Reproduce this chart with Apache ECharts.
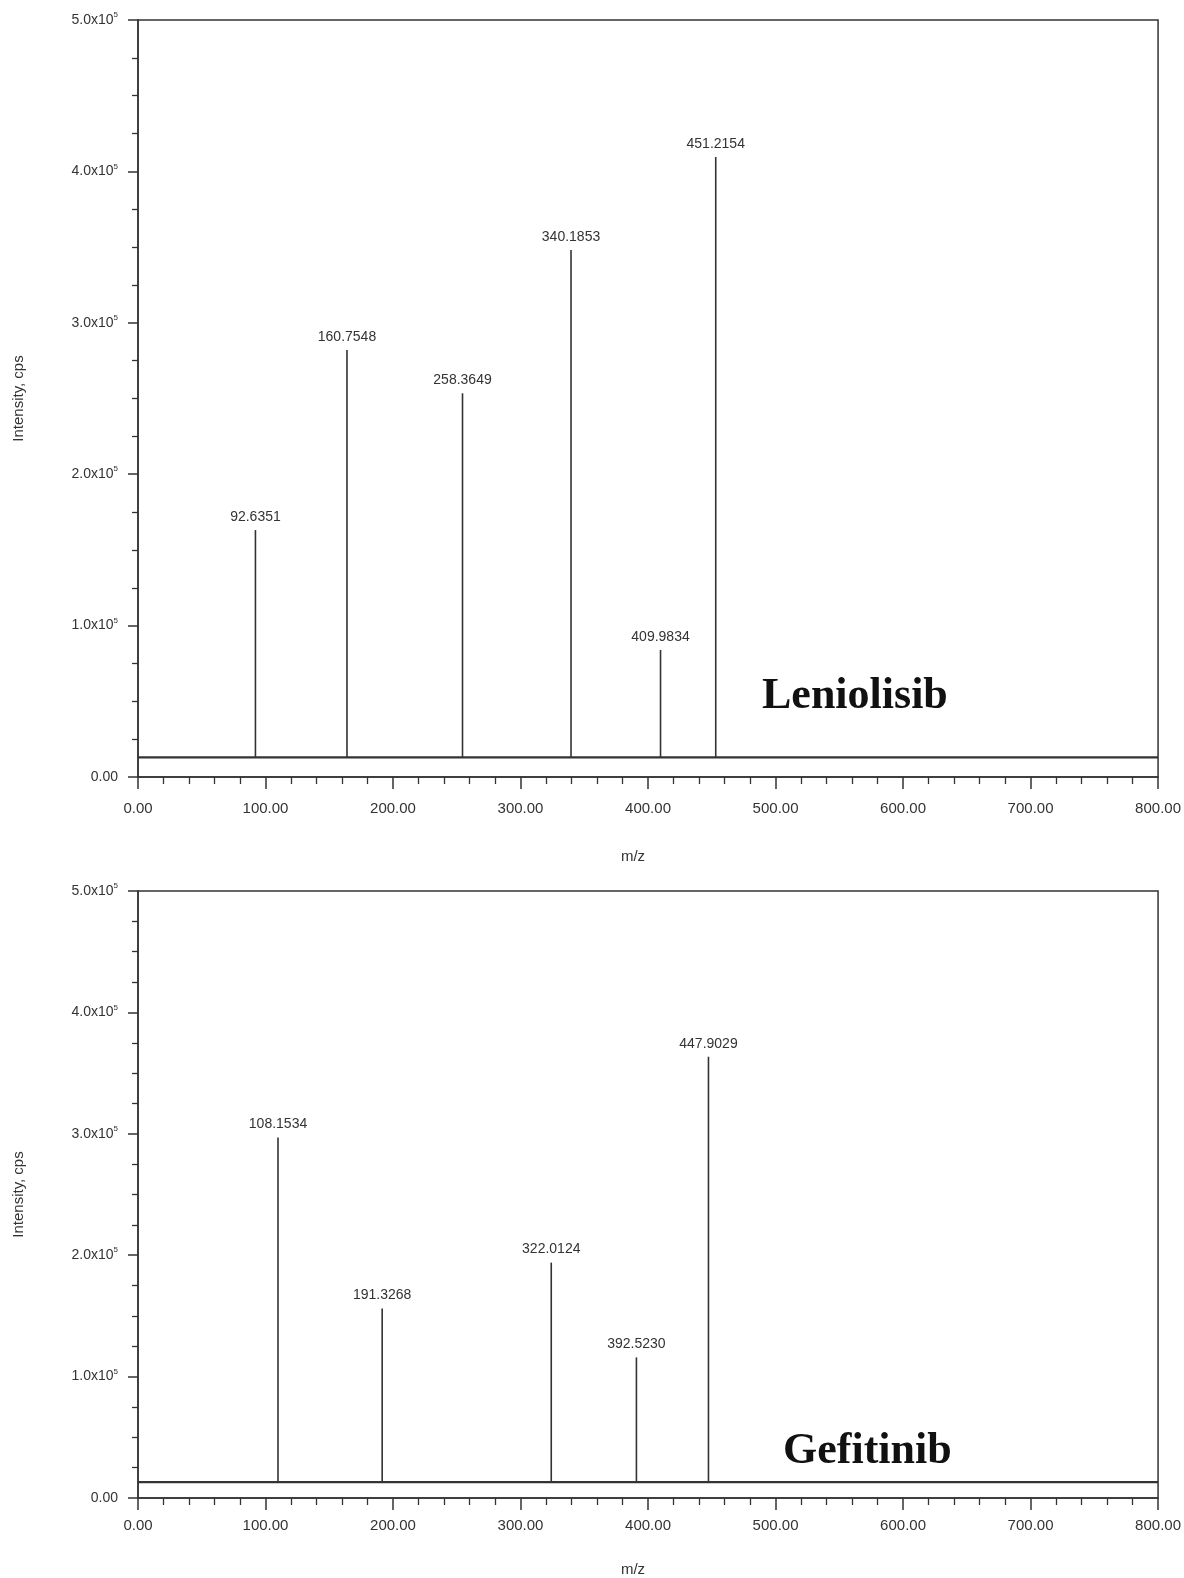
<!DOCTYPE html>
<html>
<head>
<meta charset="utf-8">
<script src="https://cdn.jsdelivr.net/npm/echarts@6/dist/echarts.min.js"></script>
<style>
  html, body { margin: 0; padding: 0; background: #fff; }
  #chart { width: 1184px; height: 1578px; }
</style>
</head>
<body>
<div id="chart"></div>
<script>
// ---- Data ----
// Leniolisib spectrum (top)
const lenPos = [92.1, 163.9, 254.5, 339.6, 409.8, 453.1];        // m/z positions of peaks
const lenInt = [163100, 282000, 253400, 348100, 83900, 409500];  // intensity, cps
const lenLabels = ['92.6351', '160.7548', '258.3649', '340.1853', '409.9834', '451.2154'];
// Gefitinib spectrum (bottom)
const gefPos = [109.8, 191.5, 324.1, 390.9, 447.4];
const gefInt = [297000, 156100, 193900, 115800, 363500];
const gefLabels = ['108.1534', '191.3268', '322.0124', '392.5230', '447.9029'];
// baseline trace level (both spectra)
const baseLevel = 13000;
const baseX = [0, 800];
// axes
const xMin = 0, xMax = 800, xStep = 100;
const yMin = 0, yMax = 500000, yStep = 100000;
const compoundNames = ['Leniolisib', 'Gefitinib'];

const FONT = 'Arial, "Liberation Sans", sans-serif';
const INK = '#333';

function yFmt(v) {
  if (v === 0) return '0.00';
  return '{b|' + (v / 1e5).toFixed(1) + 'x10}{s|5}';
}

function makeX(gi) {
  return {
    type: 'value', gridIndex: gi, min: xMin, max: xMax, interval: xStep,
    name: 'm/z', nameLocation: 'middle', nameGap: gi === 0 ? 72 : 64,
    nameTextStyle: { fontFamily: FONT, fontSize: 15, color: INK, padding: [0, 30, 0, 0] },
    axisLine: { show: true, onZero: false, lineStyle: { color: INK, width: 1.5 } },
    axisTick: { show: true, length: 12, lineStyle: { color: INK, width: 1.5 } },
    minorTick: { show: true, splitNumber: 5, length: 7, lineStyle: { color: INK, width: 1.3 } },
    splitLine: { show: false },
    axisLabel: { fontFamily: FONT, fontSize: 15, color: INK, margin: gi === 0 ? 24 : 20,
      formatter: v => v.toFixed(2) }
  };
}
function makeY(gi) {
  return {
    type: 'value', gridIndex: gi, min: yMin, max: yMax, interval: yStep,
    name: 'Intensity, cps', nameLocation: 'middle', nameGap: 112,
    nameTextStyle: { fontFamily: FONT, fontSize: 15, color: INK },
    axisLine: { show: true, lineStyle: { color: INK, width: 1.5 } },
    axisTick: { show: true, length: 10, lineStyle: { color: INK, width: 1.5 } },
    minorTick: { show: true, splitNumber: 4, length: 6, lineStyle: { color: INK, width: 1.3 } },
    splitLine: { show: false },
    axisLabel: {
      margin: 20, formatter: yFmt, color: INK, fontFamily: FONT, fontSize: 14,
      rich: {
        b: { fontFamily: FONT, fontSize: 14, color: INK, lineHeight: 18 },
        s: { fontFamily: FONT, fontSize: 8, color: INK, verticalAlign: 'top', lineHeight: 18, padding: [0, 0, 6, 0] }
      }
    }
  };
}

function peakSeries(gi, pos, inten, labels) {
  return {
    type: 'custom', xAxisIndex: gi, yAxisIndex: gi,
    data: pos.map((p, i) => [p, inten[i]]),
    renderItem: function (params, api) {
      const top = api.coord([api.value(0), api.value(1)]);
      const bot = api.coord([api.value(0), baseLevel]);
      return {
        type: 'group',
        children: [
          { type: 'line', shape: { x1: top[0], y1: bot[1], x2: top[0], y2: top[1] },
            style: { stroke: INK, lineWidth: 1.6 } },
          { type: 'text', x: top[0], y: top[1] - 6,
            style: { text: labels[params.dataIndex], fill: INK, font: '14px ' + FONT,
              align: 'center', verticalAlign: 'bottom' } }
        ]
      };
    },
    z: 3
  };
}
function baseSeries(gi) {
  return {
    type: 'line', xAxisIndex: gi, yAxisIndex: gi, symbol: 'none',
    data: baseX.map(x => [x, baseLevel]),
    lineStyle: { color: INK, width: 2.2 }, z: 2, silent: true
  };
}

const chart = echarts.init(document.getElementById('chart'), null, { renderer: 'canvas' });
chart.setOption({
  animation: false,
  backgroundColor: '#fff',
  grid: [
    { left: 138, top: 20, right: 25, height: 757, show: true, borderColor: INK, borderWidth: 1.5, backgroundColor: 'transparent' },
    { left: 138, top: 891, right: 20, height: 619, show: true, borderColor: INK, borderWidth: 1.5, backgroundColor: 'transparent' }
  ],
  xAxis: [makeX(0), makeX(1)],
  yAxis: [makeY(0), makeY(1)],
  series: [
    baseSeries(0), peakSeries(0, lenPos, lenInt, lenLabels),
    baseSeries(1), peakSeries(1, gefPos, gefInt, gefLabels)
  ],
  graphic: [
    { type: 'text', left: 762, top: 675,
      style: { text: compoundNames[0], font: 'bold 44px "Liberation Serif", "Times New Roman", serif', fill: '#111' } },
    { type: 'text', left: 783, top: 1430,
      style: { text: compoundNames[1], font: 'bold 44px "Liberation Serif", "Times New Roman", serif', fill: '#111' } }
  ]
});
</script>
</body>
</html>
